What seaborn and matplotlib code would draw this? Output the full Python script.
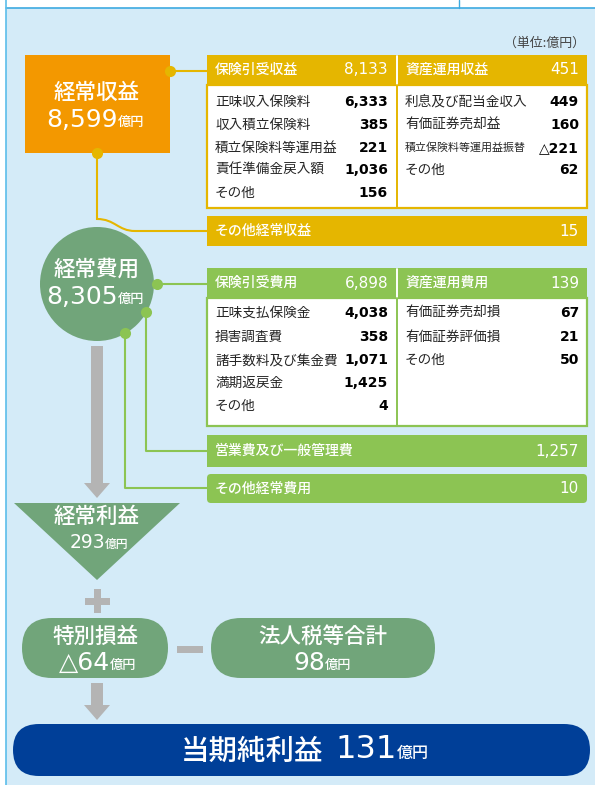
import matplotlib.pyplot as plt
import matplotlib.patches as mpatches
from matplotlib.path import Path
import seaborn as sns

sns.set_theme(style="white")
plt.rcParams['font.family'] = ['Noto Sans CJK JP', 'DejaVu Sans']
num_font = ['DejaVu Sans', 'Noto Sans CJK JP']

# values (億円)
unit_label = "（単位:億円）"
ordinary_income = "8,599"
ordinary_expense = "8,305"
ordinary_profit = "293"
extraordinary = "△64"
taxes = "98"
net_income = "131"

uw_income_head = ["保険引受収益", "8,133"]
uw_income_items = ["正味収入保険料", "収入積立保険料", "積立保険料等運用益", "責任準備金戻入額", "その他"]
uw_income_vals = ["6,333", "385", "221", "1,036", "156"]
inv_income_head = ["資産運用収益", "451"]
inv_income_items = ["利息及び配当金収入", "有価証券売却益", "積立保険料等運用益振替", "その他"]
inv_income_vals = ["449", "160", "△221", "62"]
other_income = ["その他経常収益", "15"]

uw_expense_head = ["保険引受費用", "6,898"]
uw_expense_items = ["正味支払保険金", "損害調査費", "諸手数料及び集金費", "満期返戻金", "その他"]
uw_expense_vals = ["4,038", "358", "1,071", "1,425", "4"]
inv_expense_head = ["資産運用費用", "139"]
inv_expense_items = ["有価証券売却損", "有価証券評価損", "その他"]
inv_expense_vals = ["67", "21", "50"]
admin_expense = ["営業費及び一般管理費", "1,257"]
other_expense = ["その他経常費用", "10"]

bg = "#D4EBF8"
orange = "#F39800"
gold = "#E5B600"
lgreen = "#8CC453"
dgreen = "#71A57A"
navy = "#003F98"
gray = "#B4B4B4"
ink = "#262626"

fig = plt.figure(figsize=(5.95, 7.85), dpi=100)
ax = fig.add_axes([0, 0, 1, 1])
ax.set_xlim(0, 595)
ax.set_ylim(785, 0)
ax.set_aspect("equal")
ax.axis("off")

# frame
ax.add_patch(mpatches.Rectangle((6, 8), 600, 800, fc=bg, ec="none"))
ax.plot([6, 595], [8, 8], color="#3DAAE0", lw=1.2)
ax.plot([6, 6], [0, 785], color="#5BBDEA", lw=1.2)
ax.plot([459, 459], [0, 8], color="#3DAAE0", lw=1)
ax.text(585, 43, unit_label, ha="right", va="center", fontsize=9.3, color="#444444")


def table(top, color, lhead, litems, lvals, rhead, ritems, rvals, row_y, bottom):
    ax.add_patch(mpatches.Rectangle((207, top + 30), 380, bottom - top - 30, fc="white", ec=color, lw=1.6))
    ax.add_patch(mpatches.Rectangle((207, top), 380, 30, fc=color, ec="none"))
    ax.plot([397, 397], [top + 1, top + 30], color="white", lw=1.4)
    ax.plot([397, 397], [top + 30, bottom], color=color, lw=1.4)
    hy = top + 15
    ax.text(215, hy, lhead[0], ha="left", va="center", fontsize=10, color="white", fontweight="medium")
    ax.text(388, hy, lhead[1], ha="right", va="center", fontsize=11, color="white", family=num_font)
    ax.text(405, hy, rhead[0], ha="left", va="center", fontsize=10, color="white", fontweight="medium")
    ax.text(579, hy, rhead[1], ha="right", va="center", fontsize=11, color="white", family=num_font)
    for i, (lab, v) in enumerate(zip(litems, lvals)):
        y = row_y[i]
        ax.text(215, y, lab, ha="left", va="center", fontsize=9.8, color=ink)
        ax.text(388, y, v, ha="right", va="center", fontsize=10, color="black", fontweight="bold",
                family=num_font)
    for i, (lab, v) in enumerate(zip(ritems, rvals)):
        y = row_y[i]
        fs = 7.9 if len(lab) > 10 else 9.8
        ax.text(405, y, lab, ha="left", va="center", fontsize=fs, color=ink)
        ax.text(579, y, v, ha="right", va="center", fontsize=10, color="black", fontweight="bold",
                family=num_font)


def bar(top, h, color, item, rounded=False):
    if rounded:
        p = mpatches.FancyBboxPatch((207, top), 380, h, boxstyle="round,pad=0,rounding_size=4", fc=color, ec="none")
    else:
        p = mpatches.Rectangle((207, top), 380, h, fc=color, ec="none")
    ax.add_patch(p)
    ax.text(215, top + h / 2, item[0], ha="left", va="center", fontsize=10, color="white", fontweight="medium")
    ax.text(579, top + h / 2, item[1], ha="right", va="center", fontsize=11, color="white", family=num_font)


def dot(x, y, color):
    ax.plot([x], [y], marker="o", ms=8, color=color, mec="none", zorder=5)


def value_pair(xsplit, y, num, nsize, usize, yoff=2):
    ax.text(xsplit, y, num, ha="right", va="center", fontsize=nsize, color="white", family=num_font)
    ax.text(xsplit, y + yoff, "億円", ha="left", va="center", fontsize=usize, color="white", fontweight="medium")


def down_arrow(x, y0, y1, head=15):
    pts = [(x - 6, y0), (x + 6, y0), (x + 6, y1 - head), (x + 13, y1 - head), (x, y1),
           (x - 13, y1 - head), (x - 6, y1 - head)]
    ax.add_patch(mpatches.Polygon(pts, closed=True, fc=gray, ec="none"))


# income side
row_top = [102, 125, 148, 170, 193]
table(55, gold, uw_income_head, uw_income_items, uw_income_vals,
      inv_income_head, inv_income_items, inv_income_vals, row_top, 208)
bar(216, 30, gold, other_income)

ax.plot([170, 207], [71, 71], color=gold, lw=1.5)
verts = [(97, 153), (97, 219), (97, 219), (115, 219), (118, 231), (135, 231), (207, 231)]
codes = [Path.MOVETO, Path.LINETO, Path.LINETO, Path.CURVE4, Path.CURVE4, Path.CURVE4, Path.LINETO]
ax.add_patch(mpatches.PathPatch(Path(verts, codes), fc="none", ec=gold, lw=1.5))

ax.add_patch(mpatches.Rectangle((25, 55), 145, 98, fc=orange, ec="none"))
ax.text(97, 93, "経常収益", ha="center", va="center", fontsize=15.5, color="white", fontweight="medium")
value_pair(118, 120, ordinary_income, 18, 9.5)
dot(170, 71, gold)
dot(97, 153, gold)

# expense side
row_bot = [313, 337, 360, 383, 406]
table(268, lgreen, uw_expense_head, uw_expense_items, uw_expense_vals,
      inv_expense_head, inv_expense_items, inv_expense_vals, row_bot, 426)
bar(435, 32, lgreen, admin_expense)
bar(474, 29, lgreen, other_expense, rounded=True)

ax.plot([157, 207], [284, 284], color=lgreen, lw=1.5)
ax.plot([146, 146, 207], [312, 451, 451], color=lgreen, lw=1.5)
ax.plot([125, 125, 207], [333, 488, 488], color=lgreen, lw=1.5)

ax.add_patch(mpatches.Circle((97, 284), 57, fc=dgreen, ec="none"))
ax.text(97, 270, "経常費用", ha="center", va="center", fontsize=15.5, color="white", fontweight="medium")
value_pair(118, 297, ordinary_expense, 18, 9.5)
dot(157, 284, lgreen)
dot(146, 312, lgreen)
dot(125, 333, lgreen)

down_arrow(97, 346, 498)

# ordinary profit
ax.add_patch(mpatches.Polygon([(14, 503), (180, 503), (97, 580)], closed=True, fc=dgreen, ec="none"))
ax.text(97, 517, "経常利益", ha="center", va="center", fontsize=15.5, color="white", fontweight="medium")
value_pair(105, 542, ordinary_profit, 13.5, 8.5)

# plus / minus
ax.add_patch(mpatches.Rectangle((85, 597.5), 25, 7, fc=gray, ec="none"))
ax.add_patch(mpatches.Rectangle((94, 589), 7, 24, fc=gray, ec="none"))
ax.add_patch(mpatches.Rectangle((177, 646), 26, 6.5, fc=gray, ec="none"))

# extraordinary / taxes
for x0, w in [(22, 146), (211, 224)]:
    ax.add_patch(mpatches.FancyBboxPatch((x0, 618), w, 60, boxstyle="round,pad=0,rounding_size=30",
                                         fc=dgreen, ec="none"))
ax.text(95, 637, "特別損益", ha="center", va="center", fontsize=15.5, color="white", fontweight="medium")
value_pair(110, 663, extraordinary, 18, 9.5)
ax.text(323, 637, "法人税等合計", ha="center", va="center", fontsize=15.5, color="white", fontweight="medium")
value_pair(325, 663, taxes, 18, 9.5)

down_arrow(97, 683, 720)

# net income
ax.add_patch(mpatches.FancyBboxPatch((13, 724), 577, 52, boxstyle="round,pad=0,rounding_size=26",
                                     fc=navy, ec="none"))
ax.text(323, 751, "当期純利益", ha="right", va="center", fontsize=20.5, color="white", fontweight="medium")
ax.text(335, 750, net_income, ha="left", va="center", fontsize=23, color="white", family=num_font)
ax.text(397, 753, "億円", ha="left", va="center", fontsize=11.5, color="white", fontweight="medium")

plt.savefig("out.png", dpi=100)
plt.close()
